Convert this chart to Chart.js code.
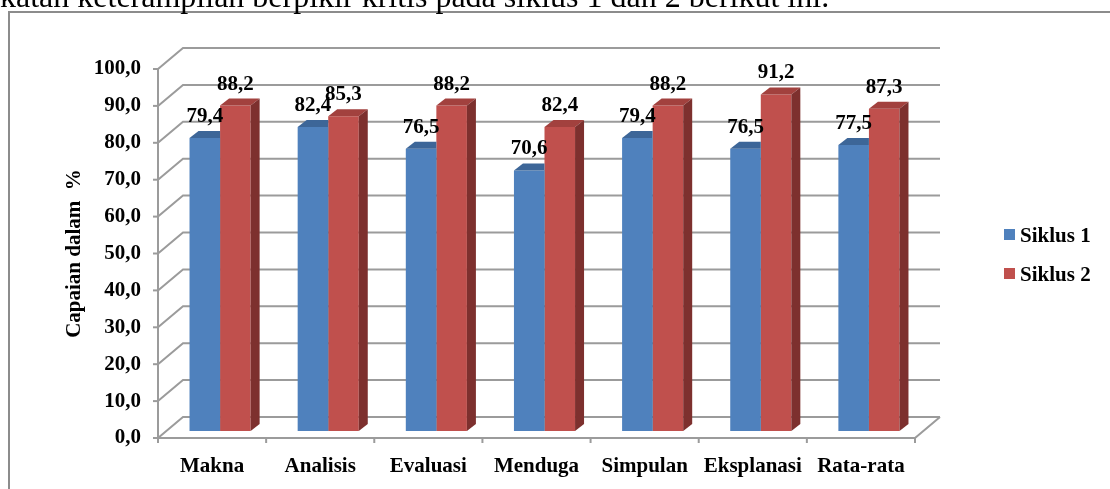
<!DOCTYPE html>
<html>
<head>
<meta charset="utf-8">
<script src="https://cdn.jsdelivr.net/npm/chart.js@4/dist/chart.umd.min.js"></script>
<style>
  html, body { margin: 0; padding: 0; background: #fff; overflow: hidden; }
  #wrap { width: 1110px; height: 489px; position: relative; }
</style>
</head>
<body>
<div id="wrap"><canvas id="c" width="1110" height="489"></canvas></div>
<script>
// Capaian keterampilan berpikir kritis per aspek, siklus 1 dan 2
const categories = ['Makna', 'Analisis', 'Evaluasi', 'Menduga', 'Simpulan', 'Eksplanasi', 'Rata-rata'];
const siklus1 = [79.4, 82.4, 76.5, 70.6, 79.4, 76.5, 77.5];
const siklus2 = [88.2, 85.3, 88.2, 82.4, 88.2, 91.2, 87.3];
const seriesLabels = ['Siklus 1', 'Siklus 2'];
const yTickValues = [0, 10, 20, 30, 40, 50, 60, 70, 80, 90, 100];
const axisTitle = 'Capaian dalam  %';
const introText = 'katan keterampilan berpikir kritis pada siklus 1 dan 2 berikut ini.';

const FONT = '"Liberation Serif", "Times New Roman", serif';
const fmt = v => v.toFixed(1).replace('.', ',');

// Faux 3D geometry: wall depth, bar placement inside the box, bar thickness
const WALL = { dx: 25, dy: -21 };
const SHIFT = { dx: 8, dy: -7 };
const DEPTH = { dx: 9, dy: -7 };
const GRID = '#9b9b9b';

const faces = [
  { front: '#4F81BD', top: '#3D6698', side: '#34577F' },
  { front: '#C0504D', top: '#A2413E', side: '#7D302E' }
];

const box3d = {
  id: 'box3d',
  beforeDraw(chart) {
    const ctx = chart.ctx;
    ctx.save();
    ctx.fillStyle = '#fff';
    ctx.fillRect(0, 0, chart.width, chart.height);
    // frame of the chart object
    ctx.strokeStyle = '#8c8c8c';
    ctx.lineWidth = 2;
    ctx.beginPath();
    ctx.moveTo(9, chart.height + 5);
    ctx.lineTo(9, 12);
    ctx.lineTo(chart.width + 5, 12);
    ctx.stroke();
    // running text line above the chart
    ctx.fillStyle = '#000';
    ctx.font = '32px ' + FONT;
    ctx.textBaseline = 'alphabetic';
    ctx.textAlign = 'left';
    ctx.fillText(introText, 0, 7);
    ctx.restore();
  },
  beforeDatasetsDraw(chart) {
    const ctx = chart.ctx;
    const ys = chart.scales.y, xs = chart.scales.x;
    const L = xs.left, R = xs.right;
    ctx.save();
    ctx.strokeStyle = GRID;
    ctx.lineWidth = 2;
    ctx.lineCap = 'butt';
    // side wall diagonals and back wall gridlines
    yTickValues.forEach(v => {
      const y = ys.getPixelForValue(v);
      ctx.beginPath();
      ctx.moveTo(L, y);
      ctx.lineTo(L + WALL.dx, y + WALL.dy);
      ctx.lineTo(R + WALL.dx, y + WALL.dy);
      ctx.stroke();
      // tick marks on the value axis
      ctx.beginPath();
      ctx.moveTo(L - 5, y);
      ctx.lineTo(L, y);
      ctx.stroke();
    });
    const y0 = ys.getPixelForValue(0);
    const yTop = ys.getPixelForValue(100);
    // value axis
    ctx.beginPath();
    ctx.moveTo(L, yTop);
    ctx.lineTo(L, y0);
    ctx.stroke();
    // floor front edge and right edge
    ctx.beginPath();
    ctx.moveTo(L, y0);
    ctx.lineTo(R, y0);
    ctx.lineTo(R + WALL.dx, y0 + WALL.dy);
    ctx.stroke();
    // category boundary ticks
    const n = categories.length;
    for (let i = 0; i <= n; i++) {
      const x = L + (R - L) * i / n;
      ctx.beginPath();
      ctx.moveTo(x, y0);
      ctx.lineTo(x, y0 + 5);
      ctx.stroke();
    }
    ctx.restore();
  },
  beforeDatasetDraw(chart) {
    chart.ctx.save();
    chart.ctx.translate(SHIFT.dx, SHIFT.dy);
  },
  afterDatasetDraw(chart, args) {
    const ctx = chart.ctx;
    const f = faces[args.index];
    const next = chart.data.datasets[args.index + 1];
    args.meta.data.forEach((bar, i) => {
      const { x, y, base, width } = bar.getProps(['x', 'y', 'base', 'width'], true);
      const l = x - width / 2, r = x + width / 2;
      ctx.save();
      // the neighbouring, taller bar hides whatever lies past this bar's right edge
      if (next && next.data[i] >= args.meta._dataset.data[i]) {
        ctx.beginPath();
        ctx.rect(l - 1, 0, r - l + 1, chart.height);
        ctx.clip();
      }
      ctx.fillStyle = f.top;
      ctx.beginPath();
      ctx.moveTo(l, y);
      ctx.lineTo(r, y);
      ctx.lineTo(r + DEPTH.dx, y + DEPTH.dy);
      ctx.lineTo(l + DEPTH.dx, y + DEPTH.dy);
      ctx.closePath();
      ctx.fill();
      ctx.fillStyle = f.side;
      ctx.beginPath();
      ctx.moveTo(r, y);
      ctx.lineTo(r + DEPTH.dx, y + DEPTH.dy);
      ctx.lineTo(r + DEPTH.dx, base + DEPTH.dy);
      ctx.lineTo(r, base);
      ctx.closePath();
      ctx.fill();
      ctx.restore();
    });
    ctx.restore();
  },
  afterDatasetsDraw(chart) {
    const ctx = chart.ctx;
    ctx.save();
    ctx.fillStyle = '#000';
    ctx.font = 'bold 21px ' + FONT;
    ctx.textAlign = 'center';
    ctx.textBaseline = 'alphabetic';
    chart.data.datasets.forEach((ds, di) => {
      chart.getDatasetMeta(di).data.forEach((bar, i) => {
        ctx.fillText(fmt(ds.data[i]), bar.x + SHIFT.dx, bar.y + SHIFT.dy - 16);
      });
    });
    // legend
    ctx.textAlign = 'left';
    chart.data.datasets.forEach((ds, di) => {
      const top = 229 + di * 39;
      ctx.fillStyle = ds.backgroundColor;
      ctx.fillRect(1004, top, 11, 11);
      ctx.fillStyle = '#000';
      ctx.fillText(ds.label, 1020, top + 13);
    });
    ctx.restore();
  }
};

new Chart(document.getElementById('c'), {
  type: 'bar',
  data: {
    labels: categories,
    datasets: [
      { label: seriesLabels[0], data: siklus1, backgroundColor: faces[0].front },
      { label: seriesLabels[1], data: siklus2, backgroundColor: faces[1].front }
    ]
  },
  options: {
    responsive: false,
    animation: false,
    devicePixelRatio: 1,
    layout: { padding: { left: 52, right: 195, top: 69, bottom: 0 } },
    datasets: { bar: { categoryPercentage: 0.565, barPercentage: 1, borderWidth: 0 } },
    plugins: { legend: { display: false }, tooltip: { enabled: false } },
    scales: {
      x: {
        grid: { display: false },
        border: { display: false },
        ticks: { color: '#000', font: { family: FONT, size: 21, weight: 'bold' }, padding: 8, maxRotation: 0 },
        afterFit(s) { s.height = 51; }
      },
      y: {
        min: 0, max: 100,
        afterBuildTicks(s) { s.ticks = yTickValues.map(v => ({ value: v })); },
        grid: { display: false, drawTicks: false },
        border: { display: false },
        ticks: { color: '#000', font: { family: FONT, size: 21, weight: 'bold' }, padding: 17, callback: v => fmt(v) },
        title: { display: true, text: axisTitle, color: '#000', font: { family: FONT, size: 21, weight: 'bold' }, padding: { top: 10, bottom: 0 } },
        afterFit(s) { s.width = 106; }
      }
    }
  },
  plugins: [box3d]
});
</script>
</body>
</html>
